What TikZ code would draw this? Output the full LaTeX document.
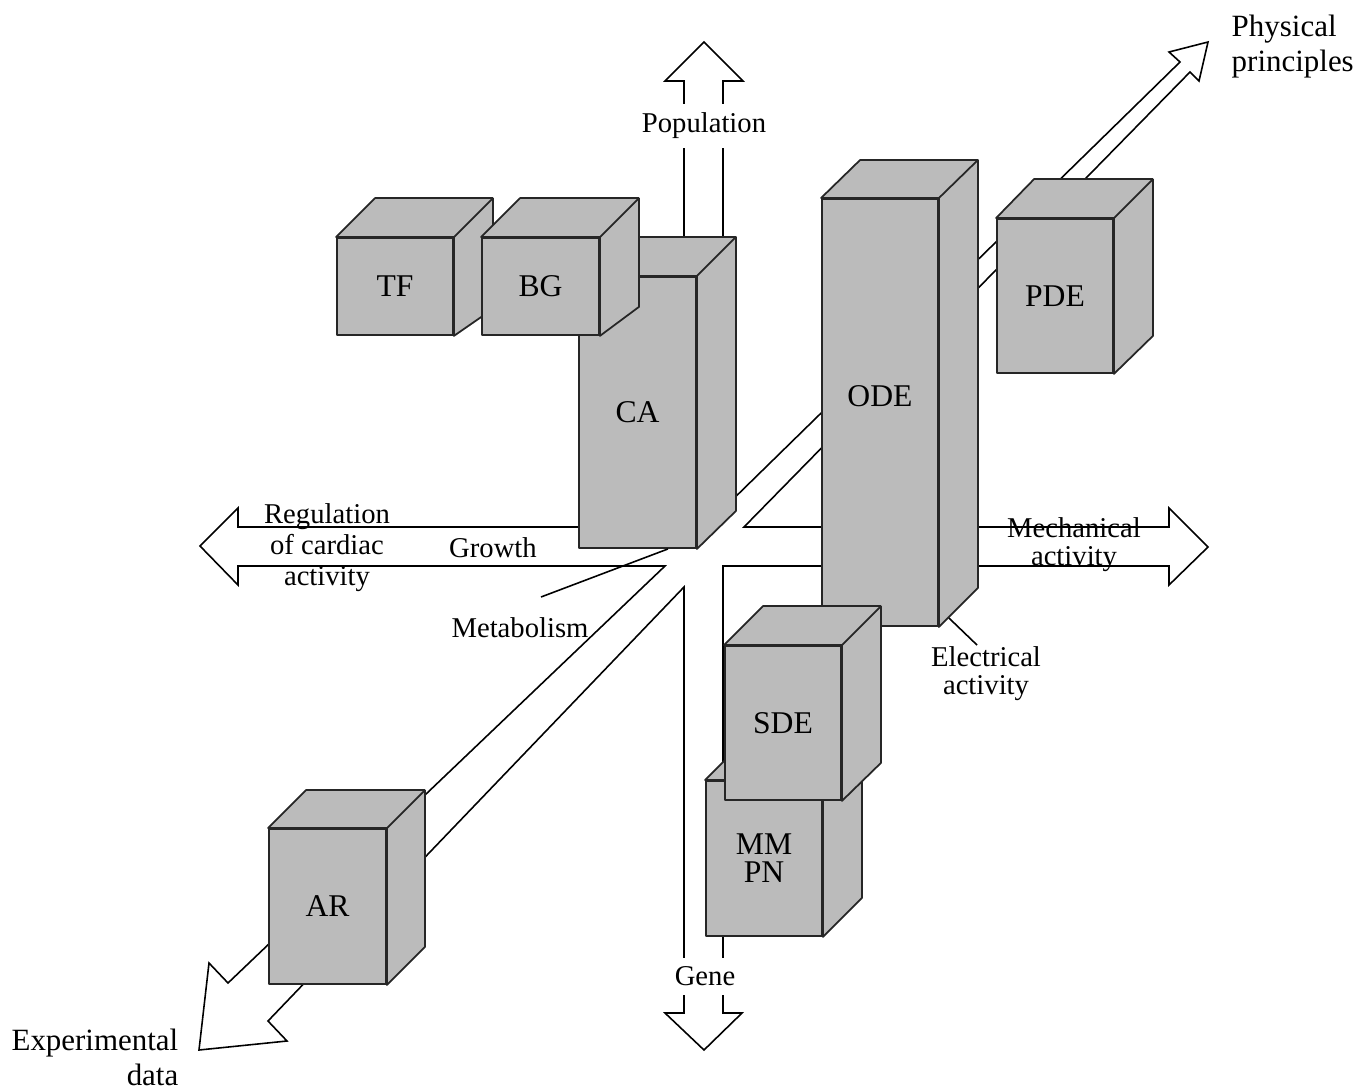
\documentclass[tikz,border=0pt]{standalone}
\usepackage{fontspec}
\setmainfont{Liberation Serif}
\usetikzlibrary{calc}

\definecolor{boxgray}{RGB}{187,187,187}
\tikzset{
  axis/.style={draw=black, fill=white, line width=0.45pt, line join=miter},
  face/.style={draw=black!85, fill=boxgray, line width=0.5pt, line join=round},
  front/.style={face, inner sep=0pt, align=center, font=\fontsize{9}{8}\selectfont},
  lbl/.style={inner sep=0pt, align=center, font=\fontsize{8.15}{8}\selectfont},
  endlbl/.style={inner sep=0pt, font=\fontsize{8.8}{10}\selectfont},
  gap/.style={lbl, fill=white, inner xsep=1pt, inner ysep=2.6pt},
  leader/.style={draw=black, line width=0.45pt},
}

\begin{document}
\begin{tikzpicture}[x=0.01cm, y=-0.01cm]
    \useasboundingbox (0,0) rectangle (1358,1088);

    % the four hollow axes, one outline
    \draw[axis] (684,81) -- (665,81) -- (704,42) -- (743,81) -- (723,81)
        -- (723,509) -- (1180,62) -- (1169,52) -- (1208,42) -- (1199,81) -- (1190,72)
        -- (744,527) -- (1169,527) -- (1169,508) -- (1208,547) -- (1169,585) -- (1169,566)
        -- (723,566) -- (723,1013) -- (742,1013) -- (704,1050) -- (665,1013) -- (684,1013)
        -- (684,587) -- (268,1021) -- (287,1041) -- (199,1050) -- (209,963) -- (228,983)
        -- (665,566) -- (238,566) -- (238,585) -- (200,546) -- (238,508) -- (238,527)
        -- (684,527) -- cycle;

    % axis labels
    \node[gap] (popul) at (704,126) {Population};
    \node[gap] (gene) at (705,976.5) {Gene};
    \node[endlbl, align=left, anchor=west] (phys) at (1231,46.5) {Physical\\principles};
    \node[endlbl, align=right, anchor=east] (expdata) at (179,1057) {Experimental\\data};
    \node[lbl, font=\fontsize{8.15}{8.8}\selectfont] (regul) at (327,548) {Regulation\\of cardiac\\activity};
    \node[lbl] (growth) at (493,547.5) {Growth};
    \node[lbl] (metab) at (520,628) {Metabolism};
    \node[lbl] (mech) at (1074,545) {Mechanical\\activity};
    \node[lbl] (elec) at (986,674) {Electrical\\activity};

    % AR
    \node[front, minimum width=1.17cm, minimum height=1.55cm] (ar) at (327.5,906.5) {AR};
    \draw[face] (ar.north west) -- ++(38,-38) -- ($(ar.north east)+(38,-38)$) -- ($(ar.south east)+(38,-38)$)
        -- (ar.south east) -- (ar.north east) -- cycle (ar.north east) -- ++(38,-38);

    % CA
    \node[front, minimum width=1.17cm, minimum height=2.71cm] (ca) at (637.5,412.5) {CA};
    \draw[face] (ca.north west) -- ++(39,-39) -- ($(ca.north east)+(39,-39)$) -- ($(ca.south east)+(39,-38)$)
        -- (ca.south east) -- (ca.north east) -- cycle (ca.north east) -- ++(39,-39);

    % TF
    \node[front, minimum width=1.16cm, minimum height=0.97cm] (tf) at (395,286.5) {TF};
    \draw[face] (tf.north west) -- ++(39,-39) -- ($(tf.north east)+(39,-39)$) -- ($(tf.south east)+(39,-27)$)
        -- (tf.south east) -- (tf.north east) -- cycle (tf.north east) -- ++(39,-39);

    % BG
    \node[front, minimum width=1.17cm, minimum height=0.97cm] (bg) at (540.5,286.5) {BG};
    \draw[face] (bg.north west) -- ++(39,-39) -- ($(bg.north east)+(39,-39)$) -- ($(bg.south east)+(39,-29)$)
        -- (bg.south east) -- (bg.north east) -- cycle (bg.north east) -- ++(39,-39);

    % ODE
    \node[front, minimum width=1.16cm, minimum height=4.27cm] (ode) at (880,412.5) {};
    \draw[face] (ode.north west) -- ++(39,-38) -- ($(ode.north east)+(39,-38)$) -- ($(ode.south east)+(39,-39)$)
        -- (ode.south east) -- (ode.north east) -- cycle (ode.north east) -- ++(39,-38);
    \node[front, draw=none, fill=none] (odetext) at (880,396) {ODE};

    % PDE
    \node[front, minimum width=1.16cm, minimum height=1.54cm] (pde) at (1055,296) {PDE};
    \draw[face] (pde.north west) -- ++(38,-39) -- ($(pde.north east)+(39,-39)$) -- ($(pde.south east)+(39,-38)$)
        -- (pde.south east) -- (pde.north east) -- cycle (pde.north east) -- ++(39,-39);

    % MM / PN
    \node[front, minimum width=1.16cm, minimum height=1.55cm] (mmpn) at (764,858.5) {MM\\PN};
    \draw[face] (mmpn.north west) -- ++(39,-39) -- ($(mmpn.north east)+(39,-39)$) -- ($(mmpn.south east)+(39,-39)$)
        -- (mmpn.south east) -- (mmpn.north east) -- cycle (mmpn.north east) -- ++(39,-39);

    % SDE
    \node[front, minimum width=1.16cm, minimum height=1.54cm] (sde) at (783,723) {SDE};
    \draw[face] (sde.north west) -- ++(39,-39) -- ($(sde.north east)+(39,-39)$) -- ($(sde.south east)+(39,-38)$)
        -- (sde.south east) -- (sde.north east) -- cycle (sde.north east) -- ++(39,-39);

    % leaders
    \coordinate (metabend) at (541,597);
    \coordinate (elecend) at (977,645);
    \draw[leader] (metabend) -- ($(ca.south east)+(-29,0)$);
    \draw[leader] ($(ode.south east)+(10,-9)$) -- (elecend);
\end{tikzpicture}
\end{document}
